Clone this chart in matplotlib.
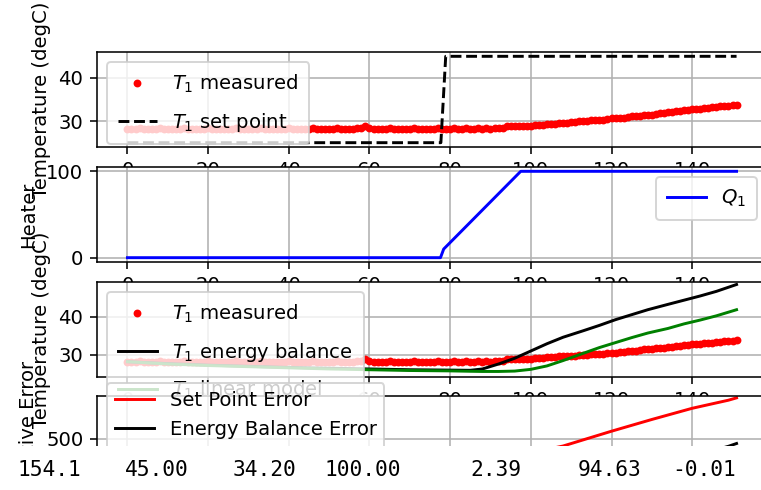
import numpy as np
import matplotlib
matplotlib.use("Agg")
import matplotlib.pyplot as plt
from matplotlib.patches import Rectangle

# measured heater temperature, one sample per second
T1 = [28.2, 28.2, 28.2, 28.5, 28.2, 28.2, 28.2, 28.2, 28.5, 28.2,
      28.2, 28.2, 28.2, 28.2, 28.5, 28.2, 28.2, 28.2, 28.2, 28.2,
      28.5, 28.2, 28.2, 28.2, 28.2, 28.2, 28.2, 28.5, 28.2, 28.2,
      28.2, 28.2, 28.2, 28.5, 28.2, 28.2, 28.2, 28.2, 28.2, 28.2,
      28.5, 28.2, 28.2, 28.2, 28.2, 28.2, 28.5, 28.2, 28.2, 28.2,
      28.2, 28.2, 28.5, 28.2, 28.2, 28.2, 28.2, 28.5, 28.5, 28.8,
      28.5, 28.2, 28.2, 28.2, 28.2, 28.5, 28.2, 28.2, 28.2, 28.2,
      28.2, 28.5, 28.2, 28.2, 28.2, 28.2, 28.2, 28.5, 28.2, 28.2,
      28.2, 28.5, 28.2, 28.2, 28.5, 28.2, 28.2, 28.5, 28.2, 28.5,
      28.2, 28.5, 28.5, 28.5, 28.8, 28.8, 28.8, 28.8, 28.9, 28.8,
      28.9, 29.1, 29.1, 29.1, 29.4, 29.4, 29.4, 29.6, 29.6, 29.6,
      29.8, 29.8, 30.0, 30.0, 30.0, 30.3, 30.3, 30.3, 30.3, 30.5,
      30.6, 30.6, 30.8, 30.8, 30.9, 31.1, 31.1, 31.2, 31.4, 31.5,
      31.5, 31.7, 31.8, 31.8, 32.0, 32.1, 32.3, 32.4, 32.5, 32.6,
      32.8, 32.8, 32.9, 33.0, 33.1, 33.2, 33.3, 33.4, 33.5, 33.6,
      33.7, 33.8]
tm = np.arange(len(T1)) * 1.0

t_sp = [0, 77.7, 78.9, 151]
Tsp1 = [25, 25, 45, 45]

t_q = [0, 77.6, 78.4, 97.5, 151]
Q1 = [0, 0, 10, 100, 100]

t_mod = [0, 10, 20, 30, 40, 50, 60, 70, 80, 85, 88, 92, 96, 100, 104, 108,
         113, 117, 121, 125, 129, 134, 138, 142, 146, 151]
Tp = [28.2, 27.7, 27.3, 27.0, 26.7, 26.5, 26.3, 26.1, 26.0, 25.95, 26.3, 27.6,
      29.1, 31.0, 32.9, 34.6, 36.3, 37.7, 39.2, 40.5, 41.8, 43.2, 44.3, 45.4,
      46.6, 48.4]
Tpl = [28.2, 27.6, 27.2, 26.9, 26.6, 26.3, 26.1, 25.9, 25.8, 25.7, 25.65, 25.65,
       25.75, 26.2, 27.1, 28.5, 30.4, 31.9, 33.2, 34.5, 35.7, 36.9, 38.1, 39.1,
       40.2, 41.8]

t_err = [0, 20, 40, 60, 78, 90, 100, 108, 120, 130, 140, 149, 151]
err_sp = [0, 60, 120, 180, 234, 300, 350, 423, 582, 708, 828, 915, 940]
err_eb = [0, 10, 30, 58, 95, 110, 115, 130, 175, 240, 310, 420, 450]
err_lm = [0, 12, 35, 62, 100, 118, 125, 128, 145, 175, 215, 262, 272]

printed = ['154.1', '45.00', '34.20', '100.00', '2.39', '94.63', '-0.01']
printed_x = [18, 125, 233, 325, 470, 578, 672]

W, H, DPI = 762, 490, 141
fig = plt.figure(figsize=(W / DPI, H / DPI), dpi=DPI)

# the subscripted labels sat taller in the legend rows
math_leg = dict(labelspacing=0.8, borderpad=0.55)


def box(top):
    # pixel top edge -> axes rect; right edge runs past the cropped figure
    return [97 / W, 1 - (top + 95) / H, 670 / W, 95 / H]


ax = fig.add_axes(box(52))
ax.grid()
ax.plot(tm, T1, 'ro', markersize=3, label=r'$T_1$ measured')
ax.plot(t_sp, Tsp1, 'k--', label=r'$T_1$ set point')
ax.set_ylabel('Temperature (degC)')
ax.legend(loc=2, **math_leg)

ax = fig.add_axes(box(167))
ax.grid()
ax.plot(t_q, Q1, 'b-', label=r'$Q_1$')
ax.set_ylabel('Heater')
ax.legend(loc='upper right', **math_leg)

ax = fig.add_axes(box(282))
ax.grid()
ax.plot(tm, T1, 'ro', markersize=3, label=r'$T_1$ measured')
ax.plot(t_mod, Tp, 'k-', label=r'$T_1$ energy balance')
ax.plot(t_mod, Tpl, 'g-', label=r'$T_1$ linear model')
ax.set_ylim(24.2, 49.05)
ax.set_ylabel('Temperature (degC)')
ax.legend(loc=2, **math_leg)

ax = fig.add_axes(box(396))
ax.grid()
ax.plot(t_err, err_sp, 'r-', label='Set Point Error')
ax.plot(t_err, err_eb, 'k-', label='Energy Balance Error')
ax.plot(t_err, err_lm, 'g-', label='Linear Model Error')
ax.set_ylim(-60, 960)
ax.set_ylabel('Cumulative Error')
ax.set_xlabel('Time (sec)')
ax.legend(loc='upper left', bbox_to_anchor=(10 / 670, 1 + 13 / 95), borderaxespad=0)

# the notebook output below the figure hides the rest of it
fig.add_artist(Rectangle((0, 0), 1, (H - 446) / H, transform=fig.transFigure,
                         facecolor='white', edgecolor='none', zorder=5))
for s, x in zip(printed, printed_x):
    fig.text(x / W, 1 - 470 / H, s, family='DejaVu Sans Mono',
             fontsize=21.3 * 72 / DPI, va='center', ha='left', zorder=6)

fig.savefig('out.png', dpi=DPI)
